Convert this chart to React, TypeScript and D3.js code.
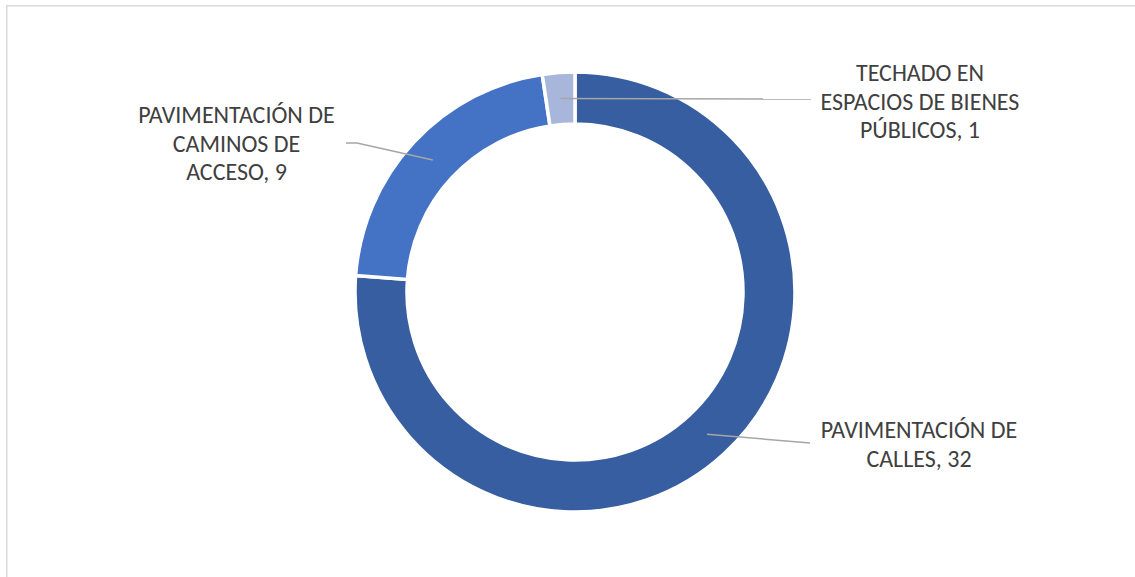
import React from "react";
import * as d3 from "d3";

const categories = [
  "PAVIMENTACIÓN DE CALLES",
  "PAVIMENTACIÓN DE CAMINOS DE ACCESO",
  "TECHADO EN ESPACIOS DE BIENES PÚBLICOS",
];
const values = [32, 9, 1];
const labelLines = [
  ["PAVIMENTACIÓN DE", "CALLES, 32"],
  ["PAVIMENTACIÓN DE", "CAMINOS DE", "ACCESO, 9"],
  ["TECHADO EN", "ESPACIOS DE BIENES", "PÚBLICOS, 1"],
];
const colors = ["#365EA0", "#4472C4", "#A9B6DC"];

const W = 1135;
const H = 577;
const cx = 575;
const cy = 292;
const R = 220;
const r = 168;

// label layout: anchor (centre x, first baseline y) and leader end points
const labelPos = [
  { x: 919, y: 438, end: [[810, 443]] },
  { x: 236.5, y: 123, end: [[357, 143], [346, 143]] },
  { x: 920, y: 81, end: [[811, 99]] },
];

export default function App() {
  const data = categories.map((c, i) => ({ c, v: values[i], i }));
  const pie = d3
    .pie<any>()
    .value((d) => d.v)
    .sort(null)
    .startAngle(0)
    .endAngle(2 * Math.PI);
  const arcs = pie(data);
  const arcGen = d3.arc<any>().innerRadius(r).outerRadius(R);
  const mid = (R + r) / 2;

  return (
    <svg width={W} height={H} style={{ position: "absolute", left: 0, top: 0 }}>
      <rect x={0} y={0} width={W} height={H} fill="#fff" />
      <rect x={6.75} y={5.75} width={W + 20} height={H + 20} fill="none" stroke="#D9D9D9" strokeWidth={1.5} />
      <g transform={`translate(${cx},${cy})`}>
        {arcs.map((a, i) => (
          <path key={i} d={arcGen(a) as string} fill={colors[i]} stroke="#fff" strokeWidth={3.5} />
        ))}
      </g>
      {arcs.map((a, i) => {
        const m = (a.startAngle + a.endAngle) / 2;
        const sx = cx + mid * Math.sin(m);
        const sy = cy - mid * Math.cos(m);
        const pts = [[sx, sy], ...labelPos[i].end];
        return (
          <path
            key={"l" + i}
            d={d3.line()(pts as any) as string}
            fill="none"
            stroke="#A6A6A6"
            strokeWidth={1.5}
          />
        );
      })}
      {labelLines.map((lines, i) => (
        <text
          key={"t" + i}
          textAnchor="middle"
          fontFamily="Carlito, Calibri, Lato, sans-serif"
          fontSize={24}
          fill="#404040"
        >
          {lines.map((ln, j) => (
            <tspan key={j} x={labelPos[i].x} y={labelPos[i].y + j * 28.7}>
              {ln}
            </tspan>
          ))}
        </text>
      ))}
    </svg>
  );
}
